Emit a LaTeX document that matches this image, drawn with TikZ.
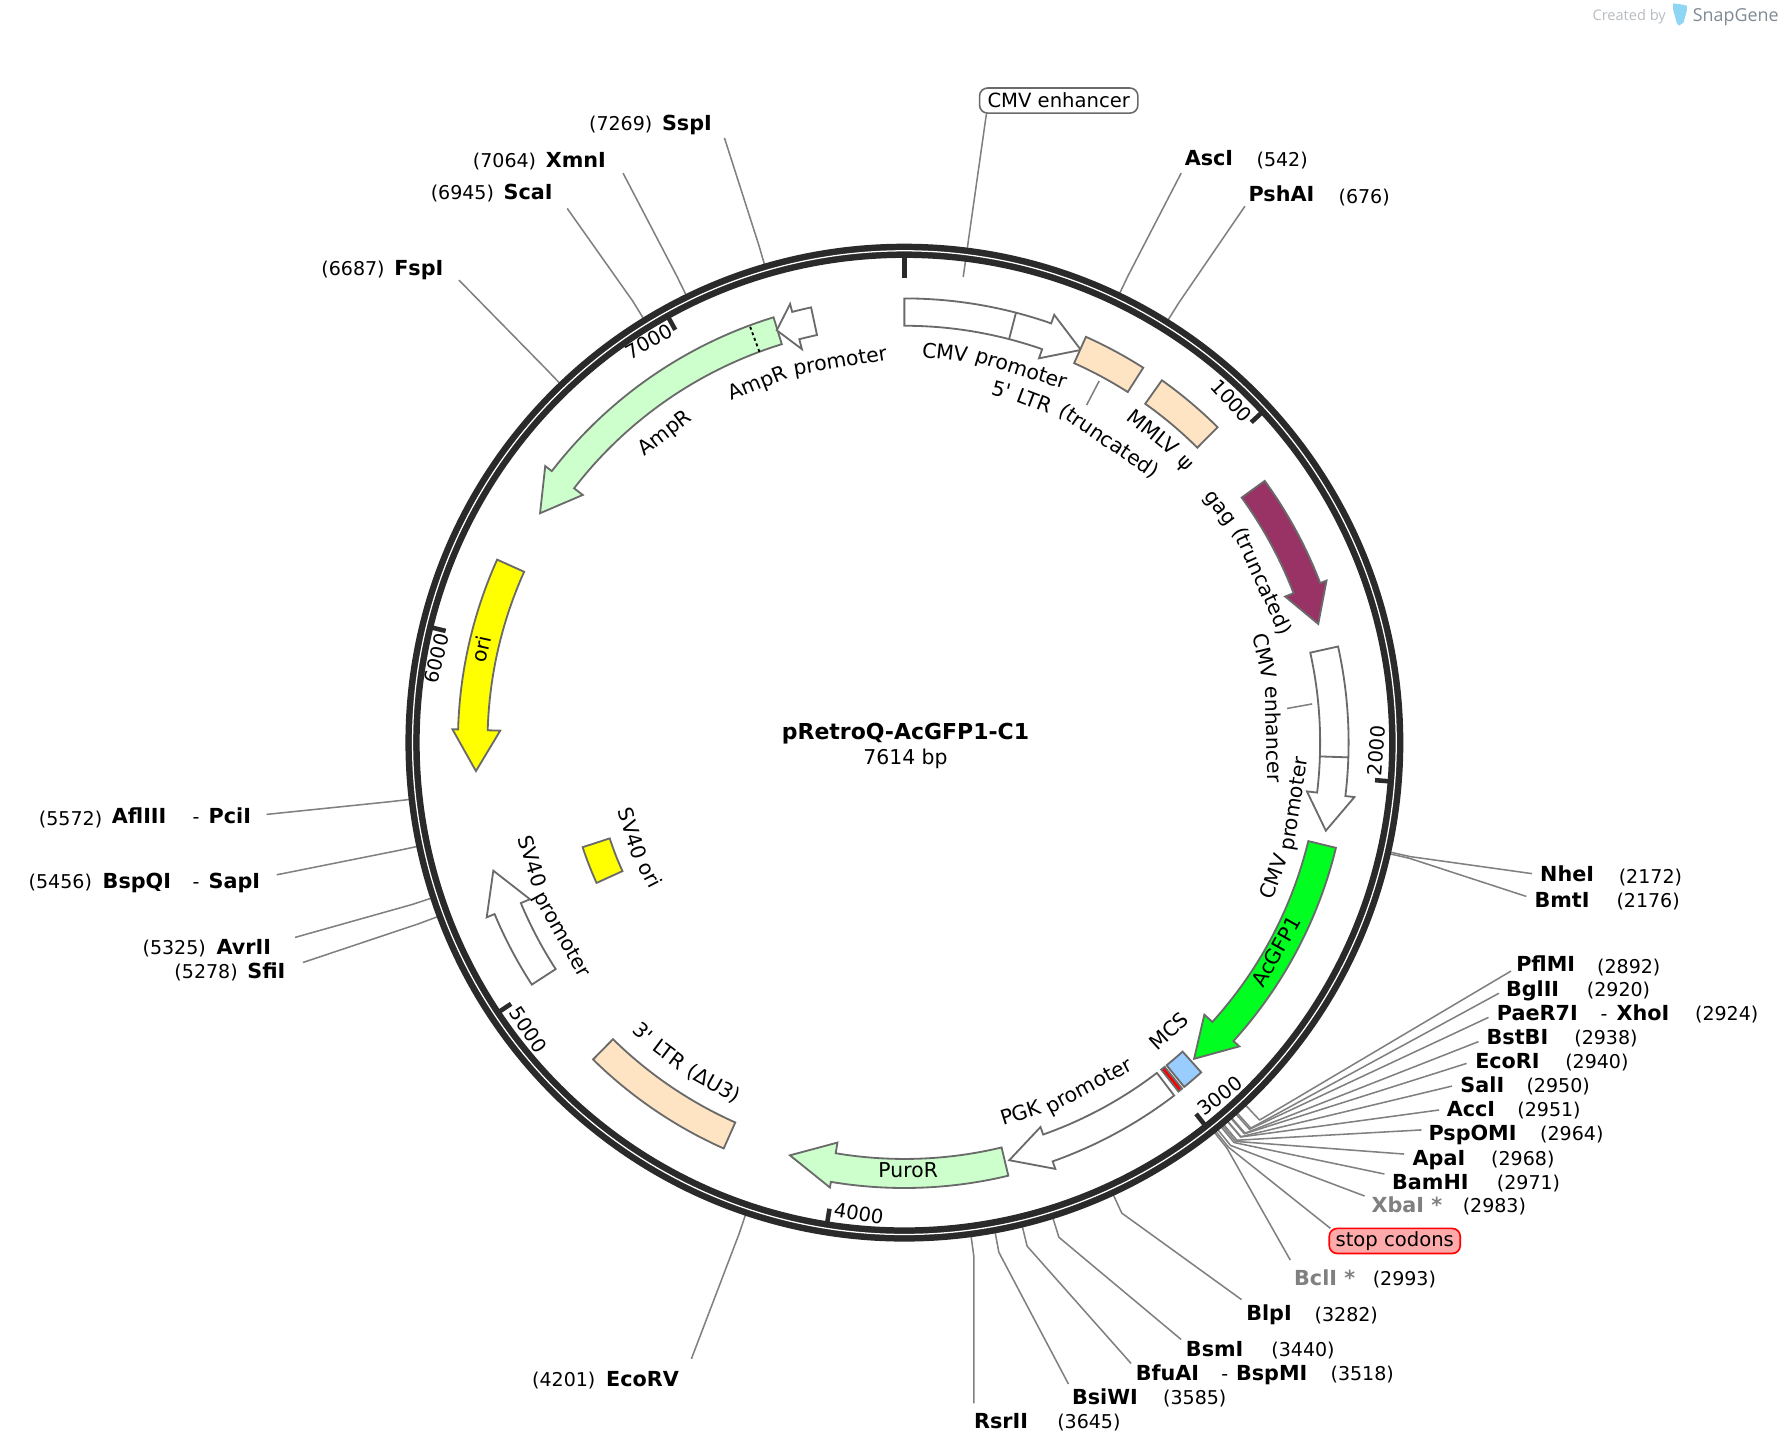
\documentclass[tikz,border=0pt]{standalone}
\usepackage{fontspec}
\newfontfamily\lblfont{DejaVu Sans}
\newfontfamily\logofont{Open Sans}
\definecolor{ringc}{HTML}{2A2A2A}
\definecolor{strokec}{HTML}{6A6A6A}
\definecolor{leadc}{HTML}{808080}
\definecolor{ltrc}{HTML}{FFE4C4}
\definecolor{resc}{HTML}{CCFFCC}
\definecolor{gagc}{HTML}{993366}
\definecolor{gfpc}{HTML}{00FF21}
\definecolor{mcsc}{HTML}{99CCFF}
\definecolor{yelc}{HTML}{FFFF00}
\definecolor{redc}{HTML}{FF0000}
\definecolor{stopc}{HTML}{FFAAAA}
\definecolor{logoc}{HTML}{8FD6F5}
\definecolor{logotx}{HTML}{7F8A94}
\definecolor{logolt}{HTML}{B8BCC0}
\newcommand\fsz{\lblfont\fontsize{17.2}{20}\selectfont}
\newcommand\fszf{\lblfont\fontsize{17.9}{20}\selectfont}
\newcommand\fszb{\lblfont\fontsize{18.2}{20}\selectfont\bfseries}
\newcommand\fszn{\lblfont\fontsize{16.7}{20}\selectfont}
\tikzset{
  x=1pt,y=1pt,
  feat/.style={draw=strokec,line width=1.6pt,line join=miter,fill=#1},
  leader/.style={draw=leadc,line width=1.35pt,line join=round},
  ticklab/.style={font=\fsz,inner sep=0pt},
  flab/.style={font=\fszf,inner sep=0pt,anchor=base},
  enzname/.style={font=\fszb,inner sep=0pt,anchor=base west},
  enzgray/.style={font=\fszb,inner sep=0pt,anchor=base west,text=leadc},
  enzpos/.style={font=\fszn,inner sep=0pt,anchor=base west},
  tag/.style={font=\fsz,draw=#1,rounded corners=7pt,line width=1.4pt,minimum height=22pt,inner sep=0pt}
}
% box: style colour, theta1, theta2, r1, r2
\newcommand\boxf[5]{\draw[feat=#1] ({90-(#2)}:#5pt) arc[start angle={90-(#2)},end angle={90-(#3)},radius=#5pt]
  -- ({90-(#3)}:#4pt) arc[start angle={90-(#3)},end angle={90-(#2)},radius=#4pt] -- cycle;}
% arrow: colour, theta start, theta barb, theta tip, body in, body out, barb in, barb out, tip r
\newcommand\arrf[9]{\draw[feat=#1] ({90-(#2)}:#6pt) arc[start angle={90-(#2)},end angle={90-(#3)},radius=#6pt]
  -- ({90-(#3)}:#8pt) -- ({90-(#4)}:#9pt) -- ({90-(#3)}:#7pt) -- ({90-(#3)}:#5pt)
  arc[start angle={90-(#3)},end angle={90-(#2)},radius=#5pt] -- cycle;}
% words set along the circle, reading clockwise / counter-clockwise: id, theta, baseline radius, text
\newcommand\cww[4]{\node[flab,rotate={-(#2)}] (#1) at ({90-(#2)}:#3pt) {#4};}
\newcommand\ccw[4]{\node[flab,rotate={180-(#2)}] (#1) at ({90-(#2)}:#3pt) {#4};}
% leader: id, theta, end x, end y (picture pixels)
\newcommand\site[4]{\coordinate (#1-c) at ({90-(#2)}:430pt);
  \coordinate (#1-e) at ({90-(#2)}:455pt);
  \coordinate (#1-l) at ({#3-794},{652-(#4)});
  \draw[leader] (#1-c) -- (#1-e) -- (#1-l);}
% labels: id, x, centre y, text
\newcommand\En[4]{\node[enzname] (#1) at ({#2-794},{652-(#3)-6.3}) {#4};}
\newcommand\Eg[4]{\node[enzgray] (#1) at ({#2-794},{652-(#3)-6.3}) {#4};}
\newcommand\Ep[4]{\node[enzpos] (#1) at ({#2-794},{652-(#3)-6.3}) {#4};}
% tick: theta
\newcommand\tickm[1]{\draw[ringc,line width=4pt] ({90-(#1)}:427pt) -- ({90-(#1)}:414.5pt);}
\begin{document}
\begin{tikzpicture}
\useasboundingbox (-794,652) rectangle (774,-624.5);
% leaders
\site{sspi}{343.69}{636}{121}
\site{xmni}{334.0}{547}{152}
\site{scai}{328.4}{498}{183}
\site{fspi}{316.2}{403}{246}
\site{asci}{25.6}{1037}{152}
\site{pshai}{31.96}{1093}{181}
\site{nhei}{102.7}{1345}{767}
\site{bmti}{102.9}{1340}{787}
\site{pflmi}{136.74}{1326.6}{852.5}
\site{bglii}{138.06}{1316}{872}
\site{paer}{138.25}{1306.8}{893.2}
\site{bstbi}{138.9}{1298}{914.5}
\site{ecori}{139.0}{1287.6}{933.6}
\site{sali}{139.5}{1274.8}{953.5}
\site{acci}{139.55}{1263.4}{974.5}
\site{pspomi}{140.1}{1248}{992}
\site{apai}{140.3}{1232.7}{1013.2}
\site{bamhi}{140.5}{1215.4}{1030.7}
\site{xbai}{141.0}{1198}{1050}
\site{stopc}{141.3}{1168}{1078.4}
\site{bcli}{141.5}{1132.8}{1106.3}
\site{blpi}{155.2}{1090}{1141}
\site{bsmi}{162.65}{1037}{1176}
\site{bfuai}{166.3}{993}{1197}
\site{bsiwi}{169.5}{938}{1215}
\site{rsrii}{172.3}{855}{1232}
\site{ecorv}{198.6}{607}{1193}
\site{sfii}{249.55}{266}{845}
\site{avrii}{251.8}{259}{823}
\site{bspqi}{257.97}{243}{768}
\site{afliii}{263.45}{234}{715}
% CMV enhancer tag and its leader
\node[tag=strokec,minimum width=139pt] (cmvtag) at ({929.5-794},{652-88.3}) {CMV enhancer};
\coordinate (cmvtag-l) at ({866-794},{652-100});
\coordinate (cmvtag-f) at ({90-7.2}:412pt);
\draw[leader] (cmvtag-l) -- (cmvtag-f);
% backbone ring
\draw[ringc,line width=6.1pt] (0,0) circle[radius=435pt];
\draw[ringc,line width=6.1pt] (0,0) circle[radius=428.6pt];
\draw[white,line width=1.1pt] (0,0) circle[radius=431.8pt];
\draw[ringc,line width=4.4pt] (90:427pt) -- (90:408pt);
\tickm{47.28}
\tickm{94.56}
\tickm{141.84}
\tickm{189.13}
\tickm{236.41}
\tickm{283.69}
\tickm{330.97}
% tick labels
\node[ticklab,rotate=-47.3] (t1000) at ({1081.4-794},{652-351.8}) {1000};
\node[ticklab,rotate=85.4] (t2000) at ({1208-794},{652-659}) {2000};
\node[ticklab,rotate=38.2] (t3000) at ({1071-794},{652-962}) {3000};
\node[ticklab,rotate=-9.1] (t4000) at ({754-794},{652-1065}) {4000};
\node[ticklab,rotate=-56.4] (t5000) at ({464-794},{652-904}) {5000};
\node[ticklab,rotate=76.3] (t6000) at ({383.5-794},{652-578}) {6000};
\node[ticklab,rotate=29] (t7000) at ({570-794},{652-300}) {7000};
% short feature leaders
\coordinate (ltr-a) at ({965-794},{652-334.5});
\coordinate (ltr-b) at ({954-794},{652-355.6});
\draw[leader] (ltr-a) -- (ltr-b);
\coordinate (enh-a) at ({1152-794},{652-618});
\coordinate (enh-b) at ({1130-794},{652-622});
\draw[leader] (enh-a) -- (enh-b);
% features
\arrf{white}{0}{19.3}{24.2}{366}{390}{357.5}{398}{378}
\draw[strokec,line width=1.6pt] ({90-14.55}:366pt) -- ({90-14.55}:390pt);
\boxf{ltrc}{24.1}{32.5}{365}{390.3}
\boxf{ltrc}{35.4}{44.8}{365}{390.3}
\arrf{gagc}{54}{69}{74}{366}{391}{358}{397}{378}
\arrf{white}{77.5}{96.9}{101.8}{365}{390}{356}{398}{378}
\draw[strokec,line width=1.6pt] ({90-91.9}:365pt) -- ({90-91.9}:390pt);
\arrf{gfpc}{103.7}{132.2}{137.5}{365}{390}{355.5}{397}{376.5}
\boxf{mcsc}{138}{140.9}{365}{389.5}
\boxf{redc}{141.25}{141.85}{365}{389.5}
\arrf{white}{142.6}{160.5}{165.9}{365}{390}{358}{397}{378}
\arrf{resc}{166.5}{189.5}{195.5}{365.5}{391}{356}{396}{376}
\boxf{ltrc}{204}{224.5}{365}{390}
\arrf{white}{237}{247.3}{252.7}{365}{390}{356.3}{397.5}{378}
\boxf{yelc}{245.5}{252}{272}{297}
\arrf{yelc}{294.2}{271.7}{266.2}{366}{392}{355}{397}{377}
\arrf{resc}{342.9}{307.6}{302.2}{366}{390.7}{356.4}{398}{378}
\draw[black,line width=1.6pt,dash pattern=on 2.6pt off 2.6pt] ({90-339.65}:366pt) -- ({90-339.65}:390.7pt);
\arrf{white}{347.9}{345.4}{342.8}{366}{390.8}{357}{398}{379}
% feature labels, word by word along the circle
\cww{f-cmv1}{5.95}{338}{CMV} \cww{f-pro1}{17.39}{338}{promoter}
\cww{f-ltr1}{15.33}{315}{5'} \cww{f-ltr2}{20.88}{315}{LTR} \cww{f-ltr3}{34.15}{314}{(truncated)}
\cww{f-mmlv}{38.7}{343}{MMLV} \cww{f-psi}{45.1}{343}{ψ}
\cww{f-gag}{53.4}{340}{gag} \cww{f-trunc}{65.72}{339}{(truncated)}
\cww{f-cmv2}{76.53}{319}{CMV} \cww{f-enh}{88.72}{318}{enhancer}
\ccw{f-cmv3}{109.97}{351}{CMV} \ccw{f-pro2}{98.95}{352}{promoter}
\ccw{f-gfp}{119.3}{381}{AcGFP1}
\ccw{f-mcs}{137.5}{350}{MCS}
\ccw{f-pgk}{162.56}{347}{PGK} \ccw{f-pro3}{151.72}{348}{promoter}
\ccw{f-puro}{179.5}{382}{PuroR}
\ccw{f-3p}{222.03}{349}{3'} \ccw{f-ltr4}{217.02}{349}{LTR} \ccw{f-du3}{209.19}{349}{(ΔU3)}
\ccw{f-sv1}{252.31}{349}{SV40} \ccw{f-pro4}{240.72}{350}{promoter}
\ccw{f-sv2}{251.52}{258}{SV40} \ccw{f-ori2}{242.52}{258}{ori}
\cww{f-ori}{282.5}{374}{ori}
\cww{f-amp}{322.3}{338}{AmpR}
\cww{f-amp2}{337.78}{335}{AmpR} \cww{f-pro5}{350.46}{334}{promoter}
% centre title
\node[font=\lblfont\fontsize{19.3}{22}\selectfont\bfseries,inner sep=0pt] (title) at (1,8) {pRetroQ-AcGFP1-C1};
\node[font=\fszf,inner sep=0pt] (size) at (1,-14.5) {7614 bp};
% enzyme labels
\Ep{sspi-p}{517}{108}{(7269)} \En{sspi-n}{581}{108}{SspI}
\Ep{xmni-p}{415}{141}{(7064)} \En{xmni-n}{479}{141}{XmnI}
\Ep{scai-p}{378}{169}{(6945)} \En{scai-n}{442}{169}{ScaI}
\Ep{fspi-p}{282}{236}{(6687)} \En{fspi-n}{346}{236}{FspI}
\En{asci-n}{1040}{139}{AscI} \Ep{asci-p}{1103}{140}{(542)}
\En{pshai-n}{1096}{171}{PshAI} \Ep{pshai-p}{1175}{172}{(676)}
\En{nhei-n}{1352}{768}{NheI} \Ep{nhei-p}{1421}{769}{(2172)}
\En{bmti-n}{1347}{790}{BmtI} \Ep{bmti-p}{1419}{790}{(2176)}
\En{pflmi-n}{1331}{847}{PflMI} \Ep{pflmi-p}{1402}{848}{(2892)}
\En{bglii-n}{1322}{869}{BglII} \Ep{bglii-p}{1393}{869}{(2920)}
\En{paer-n}{1314}{890}{PaeR7I} \Ep{paer-d}{1405}{890}{-} \En{xhoi-n}{1419}{890}{XhoI} \Ep{paer-p}{1488}{890}{(2924)}
\En{bstbi-n}{1305}{911}{BstBI} \Ep{bstbi-p}{1382}{911}{(2938)}
\En{ecori-n}{1295}{932}{EcoRI} \Ep{ecori-p}{1374}{932}{(2940)}
\En{sali-n}{1282}{953}{SalI} \Ep{sali-p}{1340}{953}{(2950)}
\En{acci-n}{1270}{974}{AccI} \Ep{acci-p}{1332}{974}{(2951)}
\En{pspomi-n}{1254}{995}{PspOMI} \Ep{pspomi-p}{1352}{995}{(2964)}
\En{apai-n}{1240}{1017}{ApaI} \Ep{apai-p}{1309}{1017}{(2968)}
\En{bamhi-n}{1222}{1038}{BamHI} \Ep{bamhi-p}{1314}{1038}{(2971)}
\Eg{xbai-n}{1204}{1058}{XbaI *} \Ep{xbai-p}{1284}{1058}{(2983)}
\node[tag=redc,fill=stopc,minimum width=115pt] (stoptag) at ({1224.5-794},{652-1089.5}) {stop codons};
\Eg{bcli-n}{1136}{1122}{BclI *} \Ep{bcli-p}{1205}{1122}{(2993)}
\En{blpi-n}{1094}{1153}{BlpI} \Ep{blpi-p}{1154}{1154}{(3282)}
\En{bsmi-n}{1041}{1185}{BsmI} \Ep{bsmi-p}{1116}{1185}{(3440)}
\En{bfuai-n}{997}{1206}{BfuAI} \Ep{bfuai-d}{1072}{1206}{-} \En{bspmi-n}{1085}{1206}{BspMI} \Ep{bfuai-p}{1168}{1206}{(3518)}
\En{bsiwi-n}{941}{1227}{BsiWI} \Ep{bsiwi-p}{1021}{1227}{(3585)}
\En{rsrii-n}{855}{1248}{RsrII} \Ep{rsrii-p}{928}{1248}{(3645)}
\Ep{ecorv-p}{467}{1211}{(4201)} \En{ecorv-n}{532}{1211}{EcoRV}
\Ep{afliii-p}{34}{718}{(5572)} \En{afliii-n}{98}{717}{AflIII} \Ep{afliii-d}{169}{717}{-} \En{pcii-n}{183}{717}{PciI}
\Ep{bspqi-p}{25}{774}{(5456)} \En{bspqi-n}{90}{774}{BspQI} \Ep{bspqi-d}{169}{774}{-} \En{sapi-n}{183}{774}{SapI}
\Ep{avrii-p}{125}{832}{(5325)} \En{avrii-n}{190}{832}{AvrII}
\Ep{sfii-p}{153}{853}{(5278)} \En{sfii-n}{217}{853}{SfiI}
% SnapGene mark
\node[font=\logofont\fontsize{12.8}{14}\selectfont,text=logolt,inner sep=0pt,anchor=base west] (created) at ({1398-794},{652-18}) {Created by};
\fill[logoc] ({1469-794},{652-3}) -- ({1474-794},{652-3.5}) -- ({1481-794},{652-5}) -- ({1481-794},{652-9}) -- ({1478-794},{652-20}) -- ({1474-794},{652-22.5}) -- ({1472-794},{652-20}) -- ({1469-794},{652-9}) -- cycle;
\node[font=\logofont\fontsize{15.7}{17}\selectfont,text=logotx,inner sep=0pt,anchor=base west] (snapgene) at ({1486-794},{652-19}) {SnapGene};
\end{tikzpicture}
\end{document}
